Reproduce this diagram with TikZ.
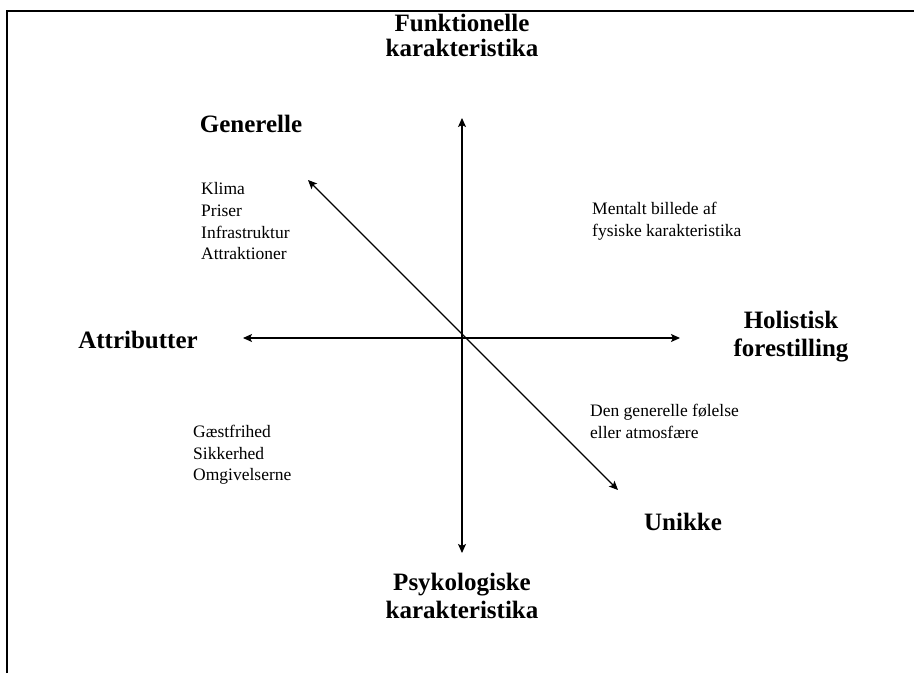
\documentclass[tikz,border=0pt]{standalone}
\usepackage{fontspec}
\setmainfont{Liberation Serif}
\usetikzlibrary{arrows.meta}
\begin{document}
\begin{tikzpicture}[x=1pt,y=-1pt,
  tip/.tip={Stealth[length=9pt,width=8pt,inset=2pt]},
  axis/.style={line width=1.1pt,tip-tip},
  head/.style={font=\fontsize{25}{28}\selectfont\bfseries,align=center,inner sep=0pt},
  items/.style={font=\fontsize{17.5}{21.6}\selectfont,align=left,anchor=north west,inner sep=0pt}]
\useasboundingbox (0,0) rectangle (914,673);
% frame along the top and left edges
\draw[line width=2.2pt] (7,673) -- (7,11) -- (914,11);
% axis end points
\coordinate (top) at (462,118);
\coordinate (bottom) at (462,553);
\coordinate (left) at (243,338);
\coordinate (right) at (680,338);
\coordinate (nw) at (308,180);
\coordinate (se) at (618,490);
\draw[axis] (top) -- (bottom);
\draw[axis] (left) -- (right);
\draw[axis] (nw) -- (se);
% pole labels
\node[head,font=\fontsize{25}{25}\selectfont\bfseries] (funk) at (462,35) {Funktionelle\\karakteristika};
\node[head] (psyk) at (462,596) {Psykologiske\\karakteristika};
\node[head] (attr) at (138,340) {Attributter};
\node[head] (holi) at (791,337) {Holistisk\\forestilling};
\node[head] (gen) at (251,124) {Generelle};
\node[head] (unik) at (683,522) {Unikke};
% quadrant contents
\node[items] (q1) at (201,182.5) {Klima\\Priser\\Infrastruktur\\Attraktioner};
\node[items] (q2) at (592,202) {Mentalt billede af\\fysiske karakteristika};
\node[items] (q3) at (590,404) {Den generelle følelse\\eller atmosfære};
\node[items] (q4) at (193,425) {Gæstfrihed\\Sikkerhed\\Omgivelserne};
\end{tikzpicture}
\end{document}
